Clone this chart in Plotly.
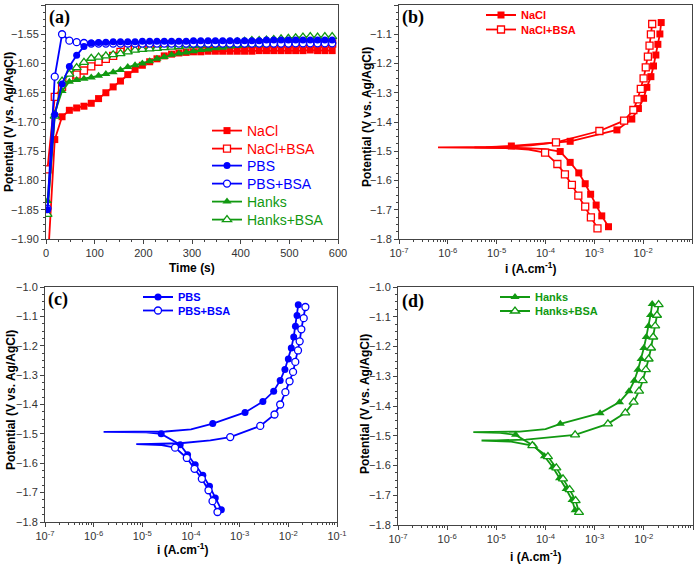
import plotly.graph_objects as go

# ---------------- Panel (a): open circuit potential vs time ----------------
TIME = [3, 18, 33, 48, 63, 78, 93, 108, 123, 138, 153, 168, 183, 198, 213, 228, 243, 258, 273, 288,
        303, 318, 333, 348, 363, 378, 393, 408, 423, 438, 453, 468, 483, 498, 513, 528, 543, 558, 573, 588]

OCP_NACL = [-1.950, -1.730, -1.691, -1.680, -1.676, -1.673, -1.668, -1.660, -1.650, -1.640,
            -1.630, -1.619, -1.610, -1.603, -1.597, -1.592, -1.587, -1.584, -1.582, -1.581,
            -1.580, -1.580, -1.579, -1.579, -1.579, -1.579, -1.579, -1.579, -1.579, -1.578,
            -1.578, -1.578, -1.578, -1.578, -1.578, -1.578, -1.577, -1.578, -1.578, -1.578]
OCP_NACL_BSA = [-1.781, -1.657, -1.640, -1.625, -1.619, -1.612, -1.605, -1.597, -1.592, -1.587,
                -1.580, -1.576, -1.572, -1.570, -1.569, -1.568, -1.567, -1.567, -1.567, -1.567,
                -1.567, -1.567, -1.567, -1.567, -1.567, -1.567, -1.567, -1.567, -1.567, -1.566,
                -1.566, -1.566, -1.566, -1.566, -1.566, -1.566, -1.566, -1.566, -1.566, -1.566]
OCP_PBS = [-1.850, -1.687, -1.635, -1.605, -1.586, -1.571, -1.565, -1.564, -1.5635, -1.563,
           -1.563, -1.563, -1.563, -1.562, -1.562, -1.562, -1.562, -1.562, -1.562, -1.562,
           -1.561, -1.561, -1.561, -1.561, -1.561, -1.561, -1.561, -1.561, -1.561, -1.561,
           -1.560, -1.560, -1.560, -1.560, -1.560, -1.560, -1.560, -1.560, -1.560, -1.560]
OCP_PBS_BSA = [-1.848, -1.6225, -1.550, -1.561, -1.5635, -1.565, -1.566, -1.566, -1.566, -1.566,
               -1.566, -1.566, -1.566, -1.566, -1.566, -1.566, -1.566, -1.566, -1.566, -1.566,
               -1.566, -1.566, -1.566, -1.566, -1.566, -1.566, -1.566, -1.566, -1.566, -1.566,
               -1.566, -1.566, -1.566, -1.566, -1.5655, -1.5655, -1.5655, -1.5655, -1.5655, -1.5655]
OCP_HANKS = [-1.835, -1.685, -1.647, -1.631, -1.628, -1.626, -1.624, -1.621, -1.618, -1.615,
             -1.611, -1.606, -1.603, -1.600, -1.596, -1.592, -1.589, -1.585, -1.583, -1.581,
             -1.579, -1.577, -1.576, -1.574, -1.573, -1.571, -1.570, -1.569, -1.568, -1.568,
             -1.567, -1.566, -1.566, -1.565, -1.565, -1.564, -1.564, -1.563, -1.563, -1.562]
OCP_HANKS_BSA = [-1.858, -1.690, -1.630, -1.618, -1.607, -1.598, -1.591, -1.589, -1.587, -1.585,
                 -1.583, -1.580, -1.577, -1.576, -1.575, -1.574, -1.573, -1.572, -1.571, -1.570,
                 -1.569, -1.568, -1.567, -1.566, -1.565, -1.564, -1.563, -1.562, -1.561, -1.561,
                 -1.560, -1.559, -1.558, -1.557, -1.556, -1.555, -1.554, -1.555, -1.554, -1.554]

# ---------------- Panels (b)-(d): polarization curves ----------------
# each curve: cathodic markers (bottom -> Ecorr), line-only points near Ecorr, anodic markers (Ecorr -> top)
NACL_CAT_I = [1.95e-3, 1.42e-3, 1.09e-3, 8.4e-4, 6.5e-4, 4.8e-4, 3.2e-4, 2.0e-4]
NACL_CAT_E = [-1.758, -1.721, -1.684, -1.647, -1.611, -1.574, -1.538, -1.501]
NACL_EC_I = [1.0e-4, 4.0e-5, 1.2e-5, 3.5e-6, 6.0e-6]
NACL_EC_E = [-1.493, -1.489, -1.487, -1.4865, -1.486]
NACL_AN_I = [2.0e-5, 3.2e-4, 2.9e-3, 5.85e-3, 8.0e-3, 1.02e-2, 1.19e-2, 1.44e-2, 1.63e-2, 1.82e-2, 2.0e-2, 2.2e-2, 2.34e-2]
NACL_AN_E = [-1.482, -1.466, -1.427, -1.390, -1.354, -1.319, -1.2815, -1.245, -1.2085, -1.171, -1.1345, -1.099, -1.060]

NACLB_CAT_I = [1.16e-3, 8.5e-4, 6.5e-4, 4.7e-4, 3.47e-4, 2.5e-4, 1.75e-4, 9.8e-5]
NACLB_CAT_E = [-1.7635, -1.726, -1.689, -1.652, -1.615, -1.579, -1.5436, -1.505]
NACLB_EC_I = [4.5e-5, 1.5e-5, 6.3e-7, 1.0e-5, 5.0e-5]
NACLB_EC_E = [-1.494, -1.489, -1.487, -1.4855, -1.480]
NACLB_AN_I = [1.64e-4, 1.27e-3, 4.07e-3, 6.3e-3, 7.7e-3, 8.95e-3, 1.02e-2, 1.13e-2, 1.25e-2, 1.35e-2, 1.44e-2, 1.53e-2]
NACLB_AN_E = [-1.4695, -1.4308, -1.3955, -1.359, -1.3225, -1.287, -1.2507, -1.213, -1.1766, -1.139, -1.1003, -1.065]

PBS_CAT_I = [4.2e-4, 3.15e-4, 2.4e-4, 1.75e-4, 1.22e-4, 8.5e-5, 6.0e-5, 2.44e-5]
PBS_CAT_E = [-1.758, -1.718, -1.678, -1.641, -1.605, -1.571, -1.537, -1.500]
PBS_EC_I = [1.2e-5, 4.0e-6, 1.6e-6, 6.0e-6, 3.0e-5, 1.0e-4]
PBS_EC_E = [-1.4945, -1.4938, -1.4935, -1.493, -1.492, -1.485]
PBS_AN_I = [2.8e-4, 1.29e-3, 3.0e-3, 5.0e-3, 6.8e-3, 8.5e-3, 1.0e-2, 1.15e-2, 1.29e-2, 1.4e-2, 1.51e-2, 1.6e-2]
PBS_AN_E = [-1.465, -1.427, -1.390, -1.355, -1.318, -1.281, -1.245, -1.208, -1.170, -1.134, -1.097, -1.060]

PBSB_CAT_I = [3.5e-4, 2.77e-4, 2.29e-4, 1.67e-4, 1.18e-4, 8.2e-5, 4.7e-5]
PBSB_CAT_E = [-1.766, -1.729, -1.692, -1.653, -1.619, -1.582, -1.547]
PBSB_EC_I = [2.5e-5, 1.0e-5, 7.5e-6, 1.5e-5, 6.0e-5, 2.5e-4]
PBSB_EC_E = [-1.538, -1.5355, -1.535, -1.5345, -1.532, -1.522]
PBSB_AN_I = [6.4e-4, 2.65e-3, 5.2e-3, 6.8e-3, 8.7e-3, 1.06e-2, 1.25e-2, 1.39e-2, 1.58e-2, 1.71e-2, 1.85e-2, 2.07e-2, 2.24e-2]
PBSB_AN_E = [-1.511, -1.473, -1.434, -1.400, -1.358, -1.321, -1.289, -1.255, -1.216, -1.185, -1.144, -1.106, -1.068]

HANKS_CAT_I = [4.0e-4, 3.47e-4, 2.63e-4, 1.93e-4, 1.41e-4, 9.5e-5, 5.8e-5, 2.47e-5]
HANKS_CAT_E = [-1.750, -1.716, -1.679, -1.643, -1.606, -1.569, -1.534, -1.497]
HANKS_EC_I = [1.2e-5, 3.4e-6, 8.0e-6, 3.0e-5, 1.0e-4]
HANKS_EC_E = [-1.4905, -1.488, -1.4875, -1.486, -1.478]
HANKS_AN_I = [2.0e-4, 1.29e-3, 3.2e-3, 5.0e-3, 6.4e-3, 7.6e-3, 8.8e-3, 1.0e-2, 1.12e-2, 1.25e-2, 1.37e-2, 1.48e-2]
HANKS_AN_E = [-1.460, -1.424, -1.387, -1.350, -1.315, -1.278, -1.242, -1.205, -1.168, -1.131, -1.094, -1.057]

HANKSB_CAT_I = [4.8e-4, 4.1e-4, 3.1e-4, 2.27e-4, 1.66e-4, 1.12e-4, 5.4e-5]
HANKSB_CAT_E = [-1.7576, -1.718, -1.681, -1.645, -1.608, -1.570, -1.533]
HANKSB_EC_I = [2.0e-5, 5.0e-6, 1.0e-5, 4.0e-5, 1.2e-4]
HANKSB_EC_E = [-1.520, -1.516, -1.5155, -1.513, -1.505]
HANKSB_AN_I = [4.0e-4, 1.86e-3, 4.2e-3, 6.2e-3, 8.0e-3, 9.5e-3, 1.1e-2, 1.25e-2, 1.4e-2, 1.55e-2, 1.7e-2, 1.85e-2, 2.0e-2]
HANKSB_AN_E = [-1.497, -1.460, -1.423, -1.387, -1.350, -1.315, -1.278, -1.242, -1.205, -1.168, -1.131, -1.095, -1.059]

# log-axis tick labels
LOG_TICKS = [1e-7, 1e-6, 1e-5, 1e-4, 1e-3, 1e-2, 1e-1]
LOG_LABELS = ["10<sup>-7</sup>", "10<sup>-6</sup>", "10<sup>-5</sup>", "10<sup>-4</sup>",
              "10<sup>-3</sup>", "10<sup>-2</sup>", "10<sup>-1</sup>"]

RED = "#ff0000"
BLUE = "#0000ff"
GREEN = "#119911"

W, H = 700, 564
FONT = "Liberation Sans, Arial, sans-serif"

fig = go.Figure()


def px_x(p):
    return p / W


def px_y(p):
    return 1 - p / H


def mk(symbol, color, open_, size):
    if open_:
        return dict(symbol=symbol, size=size, color="white", line=dict(color=color, width=1.3))
    return dict(symbol=symbol, size=size, color=color, line=dict(color=color, width=0))


# panel (a) traces
series_a = [
    ("NaCl", OCP_NACL, RED, "square", False, 7, "legend"),
    ("NaCl+BSA", OCP_NACL_BSA, RED, "square", True, 7, "legend2"),
    ("Hanks", OCP_HANKS, GREEN, "triangle-up", False, 8, "legend5"),
    ("Hanks+BSA", OCP_HANKS_BSA, GREEN, "triangle-up", True, 8, "legend6"),
    ("PBS+BSA", OCP_PBS_BSA, BLUE, "circle", True, 7, "legend4"),
    ("PBS", OCP_PBS, BLUE, "circle", False, 7, "legend3"),
]
for name, vals, col, sym, op, sz, lg in series_a:
    fig.add_trace(go.Scatter(
        x=TIME, y=vals, mode="lines+markers", xaxis="x", yaxis="y",
        name="<span style='color:%s'>%s</span>" % (col, name),
        line=dict(color=col, width=1.8), marker=mk(sym, col, op, sz), legend=lg))

curves = [
    ("x2", "y2", "NaCl", RED, "square", False, 7, "legend7",
     NACL_CAT_I, NACL_CAT_E, NACL_EC_I, NACL_EC_E, NACL_AN_I, NACL_AN_E),
    ("x2", "y2", "NaCl+BSA", RED, "square", True, 7, "legend8",
     NACLB_CAT_I, NACLB_CAT_E, NACLB_EC_I, NACLB_EC_E, NACLB_AN_I, NACLB_AN_E),
    ("x3", "y3", "PBS", BLUE, "circle", False, 7, "legend9",
     PBS_CAT_I, PBS_CAT_E, PBS_EC_I, PBS_EC_E, PBS_AN_I, PBS_AN_E),
    ("x3", "y3", "PBS+BSA", BLUE, "circle", True, 7, "legend10",
     PBSB_CAT_I, PBSB_CAT_E, PBSB_EC_I, PBSB_EC_E, PBSB_AN_I, PBSB_AN_E),
    ("x4", "y4", "Hanks", GREEN, "triangle-up", False, 8, "legend11",
     HANKS_CAT_I, HANKS_CAT_E, HANKS_EC_I, HANKS_EC_E, HANKS_AN_I, HANKS_AN_E),
    ("x4", "y4", "Hanks+BSA", GREEN, "triangle-up", True, 8, "legend12",
     HANKSB_CAT_I, HANKSB_CAT_E, HANKSB_EC_I, HANKSB_EC_E, HANKSB_AN_I, HANKSB_AN_E),
]
for xa, ya, name, col, sym, op, sz, lg, ci, ce, ei, ee, ai, ae in curves:
    fig.add_trace(go.Scatter(x=ci + ei + ai, y=ce + ee + ae, mode="lines", xaxis=xa, yaxis=ya,
                             line=dict(color=col, width=1.8), showlegend=False))
    fig.add_trace(go.Scatter(x=ci + ai, y=ce + ae, mode="markers", xaxis=xa, yaxis=ya,
                             marker=mk(sym, col, op, sz), showlegend=False))
    fig.add_trace(go.Scatter(x=[None], y=[None], mode="lines+markers", xaxis=xa, yaxis=ya,
                             name="<b><span style='color:%s'>%s</span></b>" % (col, name),
                             line=dict(color=col, width=1.8), marker=mk(sym, col, op, sz), legend=lg))

axis_common = dict(showline=True, mirror=True, linecolor="#444", linewidth=1, showgrid=False,
                   zeroline=False, ticks="outside", ticklen=4, tickwidth=1, tickcolor="#444",
                   automargin=False, tickfont=dict(family=FONT, size=11, color="#333"))

LOG_MINOR = [m * 10.0 ** e for e in range(-7, -1) for m in range(2, 10)]


def log_axis(dom, anchor):
    return dict(axis_common, type="log", range=[-7, -1], tickmode="array",
                tickvals=LOG_TICKS, ticktext=LOG_LABELS, domain=dom, anchor=anchor,
                minor=dict(ticks="outside", ticklen=2, tickcolor="#444", tickmode="array", tickvals=LOG_MINOR))


def pot_axis(dom, anchor):
    return dict(axis_common, range=[-1.8, -1.0], dtick=0.1, tickformat=".1f", domain=dom, anchor=anchor,
                minor=dict(ticks="outside", ticklen=2, tickcolor="#444", dtick=0.025))


dom_top = [px_y(239), px_y(5)]
fig.update_layout(
    width=W, height=H, margin=dict(l=0, r=0, t=0, b=0),
    paper_bgcolor="white", plot_bgcolor="white",
    font=dict(family=FONT, color="#000"),
    xaxis=dict(axis_common, range=[0, 600], dtick=100, domain=[px_x(46), px_x(338)], anchor="y",
               minor=dict(ticks="outside", ticklen=2, tickcolor="#444", dtick=25)),
    yaxis=dict(axis_common, range=[-1.90, -1.50], dtick=0.05, tickformat=".2f",
               domain=dom_top, anchor="x",
               minor=dict(ticks="outside", ticklen=2, tickcolor="#444", dtick=0.0125)),
    xaxis2=log_axis([px_x(399), px_x(692)], "y2"),
    yaxis2=pot_axis(dom_top, "x2"),
    xaxis3=log_axis([px_x(45), px_x(337)], "y3"),
    yaxis3=pot_axis([px_y(522), px_y(287)], "x3"),
    xaxis4=log_axis([px_x(398), px_x(693)], "y4"),
    yaxis4=pot_axis([px_y(525), px_y(287)], "x4"),
)

# legends: one entry per legend box so row spacing matches
leg_a_rows = [("legend", 131), ("legend2", 149), ("legend3", 166), ("legend4", 184), ("legend5", 202), ("legend6", 220)]
for lg, yc in leg_a_rows:
    fig.layout[lg] = dict(x=px_x(207), y=px_y(yc), xanchor="left", yanchor="middle",
                          bgcolor="rgba(0,0,0,0)", font=dict(family=FONT, size=14))
leg_b_rows = [("legend7", 481, 15), ("legend8", 481, 29.5), ("legend9", 138, 297), ("legend10", 138, 310.5),
              ("legend11", 495, 297), ("legend12", 495, 311)]
for lg, xl, yc in leg_b_rows:
    fig.layout[lg] = dict(x=px_x(xl), y=px_y(yc), xanchor="left", yanchor="middle",
                          bgcolor="rgba(0,0,0,0)", font=dict(family=FONT, size=11))

ann = []
title_font = dict(family=FONT, size=12, color="#000")
for txt, xc, yc in [("<b>Time (s)</b>", 192, 268), ("<b>i (A.cm<sup>-1</sup>)</b>", 530, 268),
                    ("<b>i (A.cm<sup>-1</sup>)</b>", 182, 549), ("<b>i (A.cm<sup>-1</sup>)</b>", 535, 556)]:
    ann.append(dict(text=txt, x=px_x(xc), y=px_y(yc), xref="paper", yref="paper", showarrow=False,
                    xanchor="center", yanchor="middle", font=title_font))
for xc, yc in [(8.5, 122.5), (367, 117), (11, 400), (365, 404)]:
    ann.append(dict(text="<b>Potential (V vs. Ag/AgCl)</b>", x=px_x(xc), y=px_y(yc), xref="paper", yref="paper",
                    showarrow=False, textangle=-90, xanchor="center", yanchor="middle", font=title_font))
for txt, xc, yc in [("(a)", 59.5, 17.5), ("(b)", 412.5, 17.5), ("(c)", 57.5, 299.5), ("(d)", 412.5, 301.5)]:
    ann.append(dict(text="<b>%s</b>" % txt, x=px_x(xc), y=px_y(yc), xref="paper", yref="paper", showarrow=False,
                    xanchor="center", yanchor="middle",
                    font=dict(family="Liberation Serif, Times New Roman, serif", size=18, color="#000")))
fig.update_layout(annotations=ann)

# remove the browser's default 8px body margin so the 700x564 figure fills the window exactly
fig.write_html("out.html", config={"displayModeBar": False},
               post_script="document.body.style.margin='0px';")
